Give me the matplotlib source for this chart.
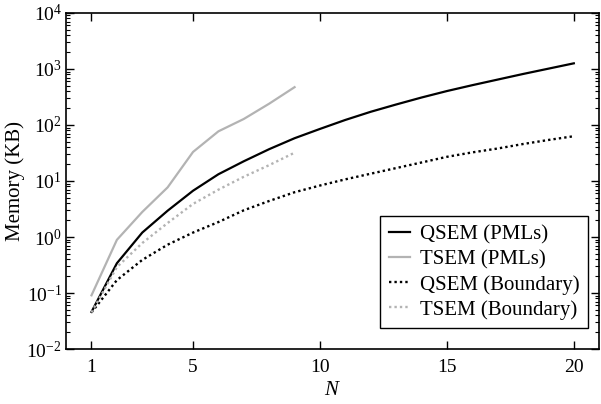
import matplotlib
matplotlib.use("Agg")
import matplotlib.pyplot as plt

plt.rcParams['font.family'] = ['Liberation Serif', 'DejaVu Serif']
plt.rcParams['mathtext.fontset'] = 'custom'
plt.rcParams['mathtext.rm'] = 'Liberation Serif'
plt.rcParams['mathtext.it'] = 'Liberation Serif:italic'
plt.rcParams['font.size'] = 15

# 데이터
n_qsem = list(range(1, 21))
n_tsem = list(range(1, 10))

qsem_pml = [0.046, 0.34, 1.2, 2.95, 6.7, 13.2, 22.5, 37, 58, 85,
            123, 172, 232, 309, 403, 513, 646, 813, 1012, 1260]
tsem_pml = [0.091, 0.89, 2.8, 7.7, 33, 77, 128, 240, 473]
qsem_bnd = [0.045, 0.17, 0.39, 0.73, 1.2, 1.85, 3.0, 4.4, 6.3, 8.3,
            10.7, 13.5, 17, 21.4, 27, 32.4, 38, 45.7, 54, 63]
tsem_bnd = [0.045, 0.29, 0.78, 1.78, 3.9, 7.0, 11.9, 19.2, 32]

labels = ["QSEM (PMLs)", "TSEM (PMLs)", "QSEM (Boundary)", "TSEM (Boundary)"]
gray = "#b3b3b3"

fig = plt.figure(figsize=(6.01, 4.04), dpi=100)
ax = fig.add_axes([0.110, 0.136, 0.887, 0.832])

ax.plot(n_qsem, qsem_pml, color="black", lw=1.6, label=labels[0])
ax.plot(n_tsem, tsem_pml, color=gray, lw=1.6, label=labels[1])
ax.plot(n_qsem, qsem_bnd, color="black", lw=1.7, ls=(0, (1, 1.3)), label=labels[2])
ax.plot(n_tsem, tsem_bnd, color=gray, lw=1.7, ls=(0, (1, 1.3)), label=labels[3])

ax.set_yscale("log")
ax.set_ylim(1e-2, 1e4)
ax.set_xlim(0, 21)
ax.set_xticks([1, 5, 10, 15, 20])
ax.tick_params(which="both", direction="in", top=True, right=True, labelsize=14)
ax.tick_params(which="major", length=6, width=1)
ax.tick_params(which="minor", length=3, width=0.8)
ax.tick_params(axis="x", which="major", pad=7)
ax.tick_params(axis="y", which="major", pad=3)
for s in ax.spines.values():
    s.set_linewidth(1.2)

ax.set_xlabel("$N$", labelpad=4)
ax.set_ylabel("Memory (KB)")
ax.yaxis.set_label_coords(-0.077, 0.5)

leg = ax.legend(loc="lower right", bbox_to_anchor=(0.979, 0.0625), borderaxespad=0,
                fancybox=False, framealpha=1, edgecolor="black",
                handlelength=1.0, handletextpad=0.5, labelspacing=0.26,
                borderpad=0.4)
leg.get_frame().set_linewidth(1.0)

fig.savefig("out.png", dpi=100)
